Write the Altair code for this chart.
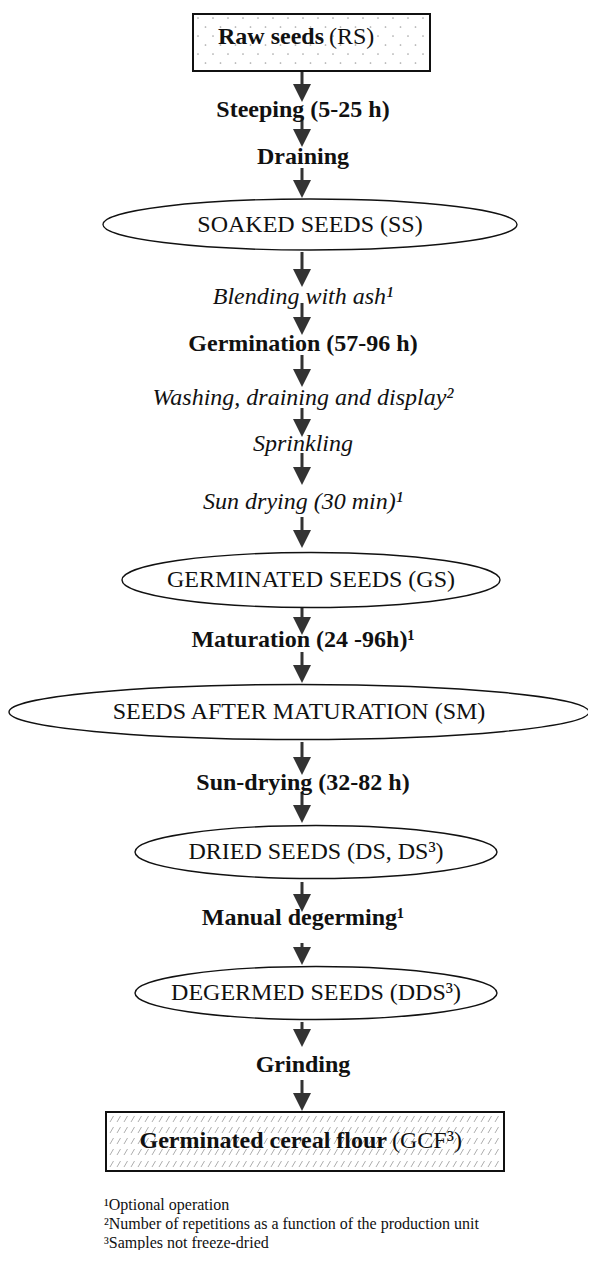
import altair as alt
import pandas as pd
import numpy as np

FONT = "Liberation Serif"
FS = 24

# ---- flow content ----
step_labels = ["Steeping (5-25 h)", "Draining", "Blending with ash¹", "Germination (57-96 h)",
               "Washing, draining and display²", "Sprinkling", "Sun drying (30 min)¹",
               "Maturation (24 -96h)¹", "Sun-drying (32-82 h)", "Manual degerming¹", "Grinding"]
step_y = [110, 157, 297, 344, 398, 444, 502, 640, 783, 918, 1065]
step_style = ["bold", "bold", "italic", "bold", "italic", "italic", "italic", "bold", "bold", "bold", "bold"]

node_labels = ["SOAKED SEEDS (SS)", "GERMINATED SEEDS (GS)", "SEEDS AFTER MATURATION (SM)",
               "DRIED SEEDS (DS, DS³)", "DEGERMED SEEDS (DDS³)"]
node_cy = [224.5, 580, 712, 852, 993]
node_cx = [310, 311, 299, 316, 316]
node_w = [414, 378, 580, 362, 362]
node_h = [51, 55, 55, 53, 53]

# arrows: start and tip
arrow_start = [72, 118, 168, 252, 303, 355, 408, 453, 517, 605, 652, 742, 792, 882, 943, 1022, 1080]
arrow_tip = [102, 147, 198, 287, 335, 387, 437, 485, 548, 635, 683, 775, 823, 912, 965, 1047, 1111]
ARROW_X = 302

# boxes
box_names = ["raw", "flour"]
box_x1 = [193, 106]
box_x2 = [430, 504]
box_y1 = [14, 1112]
box_y2 = [71, 1171]

box_bold = ["Raw seeds", "Germinated cereal flour"]
box_regular = ["(RS)", "(GCF³)"]
box_split = [324, 387]
box_text_y = [37, 1141]

footnotes = ["¹Optional operation",
             "²Number of repetitions as a function of the production unit",
             "³Samples not freeze-dried"]
foot_y = [1205, 1224, 1243]
FOOT_X = 104

# ---- scales ----
xs = alt.Scale(domain=[8, 588], nice=False, zero=False)
ys = alt.Scale(domain=[8, 1250], nice=False, zero=False, reverse=True)
W, H = 580, 1242


def X(f):
    return alt.X(f, type="quantitative", scale=xs, axis=None)


def Y(f):
    return alt.Y(f, type="quantitative", scale=ys, axis=None)


# texture for top box (dots)
dots = []
r = 0
for yy in np.arange(box_y1[0] + 4, box_y2[0] - 2, 9):
    off = 0 if r % 2 == 0 else 7.5
    for xx in np.arange(box_x1[0] + 5 + off, box_x2[0] - 2, 15):
        dots.append({"x": xx, "y": yy})
    r += 1
dots_df = pd.DataFrame(dots)

# texture for bottom box (hatch)
hatch = []
for yy in [1119, 1130, 1141, 1152, 1164]:
    for xx in np.arange(box_x1[1] + 4, box_x2[1] - 5, 7):
        hatch.append({"x": xx, "y": yy + 3, "x2": xx + 3.5, "y2": yy - 3})
hatch_df = pd.DataFrame(hatch)

dots_layer = alt.Chart(dots_df).mark_point(filled=True, size=3, color="#a8a8a8", opacity=1).encode(
    x=X("x"), y=Y("y"))
hatch_layer = alt.Chart(hatch_df).mark_rule(color="#999999", strokeWidth=0.8).encode(
    x=X("x"), y=Y("y"), x2="x2", y2="y2")

box_df = pd.DataFrame({"name": box_names, "x1": box_x1, "x2": box_x2, "y1": box_y1, "y2": box_y2})
box_layer = alt.Chart(box_df).mark_rect(fill=None, stroke="#111", strokeWidth=2).encode(
    x=X("x1"), x2="x2", y=Y("y1"), y2="y2")

bt_df = pd.DataFrame({"b": box_bold, "r": box_regular, "s": box_split, "y": box_text_y})
bt_df["s2"] = bt_df["s"] + 5
bold_box_text = alt.Chart(bt_df).mark_text(font=FONT, fontSize=FS, fontWeight="bold", align="right",
                                           baseline="middle", color="#111").encode(
    x=X("s"), y=Y("y"), text="b:N")
reg_box_text = alt.Chart(bt_df).mark_text(font=FONT, fontSize=FS, align="left",
                                          baseline="middle", color="#111").encode(
    x=X("s2"), y=Y("y"), text="r:N")

# ellipses via custom symbol paths
k = 0.5523


def ellipse_path(w, h):
    e = h / w
    return (f"M-1,0C-1,{-k*e:.4f} {-k:.4f},{-e:.4f} 0,{-e:.4f}"
            f"C{k:.4f},{-e:.4f} 1,{-k*e:.4f} 1,0"
            f"C1,{k*e:.4f} {k:.4f},{e:.4f} 0,{e:.4f}"
            f"C{-k:.4f},{e:.4f} -1,{k*e:.4f} -1,0Z")


node_df = pd.DataFrame({"label": node_labels, "cx": node_cx, "cy": node_cy, "w": node_w, "h": node_h})
node_df["path"] = [ellipse_path(w, h) for w, h in zip(node_w, node_h)]
node_df["size"] = [w * w for w in node_w]
ell_layer = alt.Chart(node_df).mark_point(filled=True, fill="white", stroke="#111", strokeWidth=1.4,
                                          opacity=1).encode(
    x=X("cx"), y=Y("cy"),
    shape=alt.Shape("path:N", scale=None),
    size=alt.Size("size:Q", scale=None))
node_text = alt.Chart(node_df).mark_text(font=FONT, fontSize=FS, baseline="middle", color="#111").encode(
    x=X("cx"), y=Y("cy"), text="label:N")

# arrows
ar_df = pd.DataFrame({"y0": arrow_start, "tip": arrow_tip})
ar_df["x"] = ARROW_X
ar_df["stem_end"] = ar_df["tip"] - 12
ar_df["head_c"] = ar_df["tip"] - 9
stem_layer = alt.Chart(ar_df).mark_rule(color="#333", strokeWidth=3).encode(
    x=X("x"), y=Y("y0"), y2="stem_end")
head_layer = alt.Chart(ar_df).mark_point(shape="M-1,-1L1,-1L0,1Z", filled=True, color="#333",
                                         size=324, opacity=1).encode(
    x=X("x"), y=Y("head_c"))

# step labels
st_df = pd.DataFrame({"label": step_labels, "y": step_y, "style": step_style})
st_df["x"] = 303
bold_steps = alt.Chart(st_df[st_df["style"] == "bold"]).mark_text(
    font=FONT, fontSize=FS, fontWeight="bold", baseline="middle", color="#111").encode(
    x=X("x"), y=Y("y"), text="label:N")
ital_steps = alt.Chart(st_df[st_df["style"] == "italic"]).mark_text(
    font=FONT, fontSize=FS, fontStyle="italic", baseline="middle", color="#111").encode(
    x=X("x"), y=Y("y"), text="label:N")

# footnotes
fn_df = pd.DataFrame({"t": footnotes, "y": foot_y})
fn_df["x"] = FOOT_X
fn_layer = alt.Chart(fn_df).mark_text(font=FONT, fontSize=16, align="left", baseline="middle",
                                      color="#111").encode(
    x=X("x"), y=Y("y"), text="t:N")

chart = alt.layer(
    dots_layer, hatch_layer, box_layer, bold_box_text, reg_box_text,
    stem_layer, head_layer, ell_layer, node_text, bold_steps, ital_steps, fn_layer
).properties(width=W, height=H, padding=0, background="white",
             autosize=alt.AutoSizeParams(type="none")).configure_view(stroke=None)

chart.save("out.html", embed_options={"renderer": "svg", "actions": False})
